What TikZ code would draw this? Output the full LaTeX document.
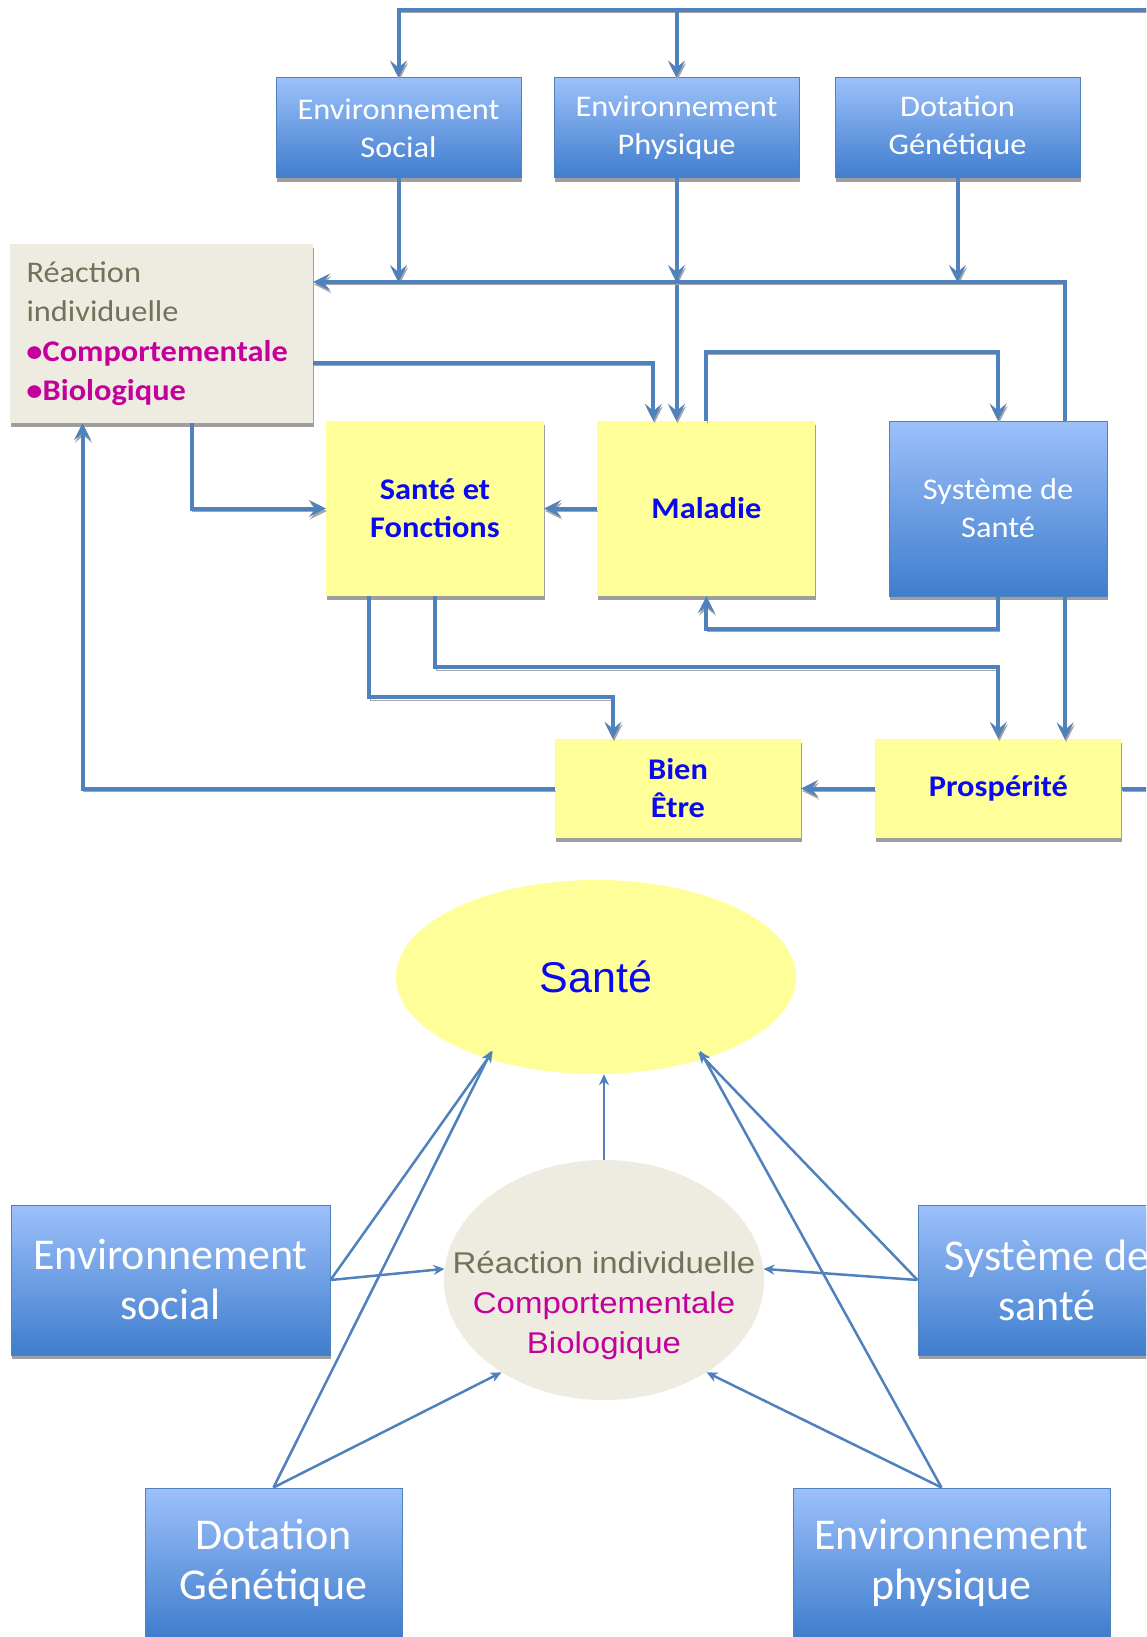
\documentclass[tikz,border=0pt]{standalone}
\usepackage{fontspec}
\setmainfont{Carlito}
\newfontfamily\widefont{Carlito}[FakeStretch=1.08]
\newfontfamily\arialwide{Liberation Sans}[FakeStretch=1.1]
\newfontfamily\arialfont{Liberation Sans}
\usepackage{xcolor}
\usetikzlibrary{arrows.meta,positioning,shapes,shadows,calc}
\definecolor{linkblue}{HTML}{4F81BD}
\definecolor{boxtop}{HTML}{9CC0FA}
\definecolor{boxbot}{HTML}{3F7DCD}
\definecolor{paleyellow}{HTML}{FFFF99}
\definecolor{reacbeige}{HTML}{EEECE1}
\definecolor{reacgray}{HTML}{737158}
\definecolor{reacpink}{HTML}{C4009A}
\definecolor{txtblue}{HTML}{0A0AF0}

\begin{document}
\begin{tikzpicture}[x=1pt,y=-1pt,
	>={Stealth[length=17pt,width=17pt,inset=7pt]},
	box shadow/.style={drop shadow={shadow xshift=1pt,shadow yshift=-4pt,fill=black!38,opacity=1}},
	blue box/.style={rectangle,draw=linkblue,line width=1pt,top color=boxtop,bottom color=boxbot,
		text=white,align=center,inner sep=0pt,box shadow,font=\widefont\fontsize{30}{38}\selectfont},
	big blue box/.style={blue box,font=\fontsize{44}{50}\selectfont,minimum height=150pt},
	yellow box/.style={rectangle,fill=paleyellow,text=txtblue,align=center,inner sep=0pt,box shadow,
		font=\widefont\bfseries\fontsize{30}{38}\selectfont},
	link/.style={draw=linkblue,line width=4pt,
		preaction={draw=black!35,transform canvas={shift={(1pt,-2.5pt)}}}},
	thin link/.style={draw=linkblue,line width=2.5pt,>={Stealth[length=11pt,width=10pt]}},
	into/.style={shorten >=-9pt}]

	\path[use as bounding box] (0,0) rectangle (1146,1637);
	\clip (0,0) rectangle (1146,1637);

	\node[blue box,minimum width=245pt,minimum height=100pt] (ES) at (398.5,128) {Environnement\\Social};
	\node[blue box,minimum width=245pt,minimum height=100pt] (EP) [right=32pt of ES] {Environnement\\Physique};
	\node[blue box,minimum width=245pt,minimum height=100pt] (DG) [right=35pt of EP] {Dotation\\Génétique};

	\node[rectangle,fill=reacbeige,box shadow,text=reacgray,align=left,text width=270pt,
		inner xsep=16.5pt,inner ysep=0pt,minimum height=179pt,
		font=\widefont\fontsize{30}{39.5}\selectfont] (RI) at (161.5,333.5)
		{Réaction\\individuelle\\\textcolor{reacpink}{\bfseries\textbullet Comportementale}\\\textcolor{reacpink}{\bfseries\textbullet Biologique}};

	\node[yellow box,minimum width=218pt,minimum height=175pt] (SF) at (435,508.5) {Santé et\\Fonctions};
	\node[yellow box,minimum width=218pt,minimum height=175pt] (MA) [right=53pt of SF] {Maladie};
	\node[blue box,minimum width=218pt,minimum height=175pt] (SS) [right=73pt of MA] {Système de\\Santé};

	\node[yellow box,minimum width=246pt,minimum height=99pt] (BE) at (678,788.5) {Bien\\Être};
	\node[yellow box,minimum width=246pt,minimum height=99pt] (PR) [right=74pt of BE] {Prospérité};

	\coordinate (rt) at (1190,10);
	\coordinate (lvA) at (0,282);
	\coordinate (lvB) at (0,363);

	\draw[link] (PR.east) -| (rt);
	\draw[link,->] (rt) -| (ES.north);
	\draw[link,->] (rt) -| (EP.north);
	\draw[link,->] (ES.south) -- (ES.south |- lvA);
	\draw[link,->] (EP.south) -- (EP.south |- lvA);
	\draw[link,->] (EP.south) -- (EP.south |- MA.north);
	\draw[link,->] (DG.south) -- (DG.south |- lvA);
	\draw[link,->] ([xshift=67pt]SS.north) |- (RI.east |- lvA);
	\draw[link,->] (RI.east |- lvB) -| ([xshift=-53pt]MA.north);
	\draw[link,->] (MA.north) -- ++(0,-69) -| (SS.north);
	\draw[link,->] ([xshift=30pt]RI.south) |- (SF.west);
	\draw[link,->] (MA.west) -- (SF.east);
	\draw[link,->] (SS.south) -- ++(0,32) -| (MA.south);
	\draw[link,->] ([xshift=-66pt]SF.south) -- ++(0,101) -| ([xshift=-65pt]BE.north);
	\draw[link,->] (SF.south) -- ++(0,71) -| (PR.north);
	\draw[link,->] ([xshift=67pt]SS.south) -- ++(0,143);
	\draw[link,->] (PR.west) -- (BE.east);
	\draw[link,->] (BE.west) -| ([xshift=-79pt]RI.south);

	\node[ellipse,fill=paleyellow,minimum width=400pt,minimum height=194pt,text=txtblue,
		font=\arialfont\fontsize{43}{50}\selectfont] (SA) at (596,977) {Santé};
	\node[ellipse,fill=reacbeige,minimum width=320pt,minimum height=240pt,
		label={[align=center,text=reacgray,font=\arialwide\fontsize{30}{40}\selectfont,yshift=-26pt]center:{Réaction individuelle\\\textcolor{reacpink}{Comportementale}\\\textcolor{reacpink}{Biologique}}}] (RE) at (604,1280) {};

	\node[big blue box,minimum width=319pt] (ES2) at (170.5,1280) {Environnement\\social};
	\node[big blue box,minimum width=258pt] (SS2) at (1047,1280) {Système de\\santé};
	\node[big blue box,minimum width=257pt] (DG2) at (273.5,1563) {Dotation\\Génétique};
	\node[big blue box,minimum width=317pt] (EP2) at (951.5,1563) {Environnement\\physique};

	\draw[thin link,->] (ES2.east) -- (RE.176);
	\draw[thin link,->,into] (ES2.east) -- (SA.217);
	\draw[thin link,->,into] (DG2.north) -- (SA.217);
	\draw[thin link,->] (DG2.north) -- (RE.222);
	\draw[thin link,->] (SS2.west) -- (RE.4);
	\draw[thin link,->,into] (SS2.west) -- (SA.323);
	\draw[thin link,->,into] ([xshift=-10pt]EP2.north) -- (SA.323);
	\draw[thin link,->] ([xshift=-10pt]EP2.north) -- (RE.318);
	\draw[thin link,->] (RE.north) -- (RE.north |- SA.south);

\end{tikzpicture}
\end{document}
